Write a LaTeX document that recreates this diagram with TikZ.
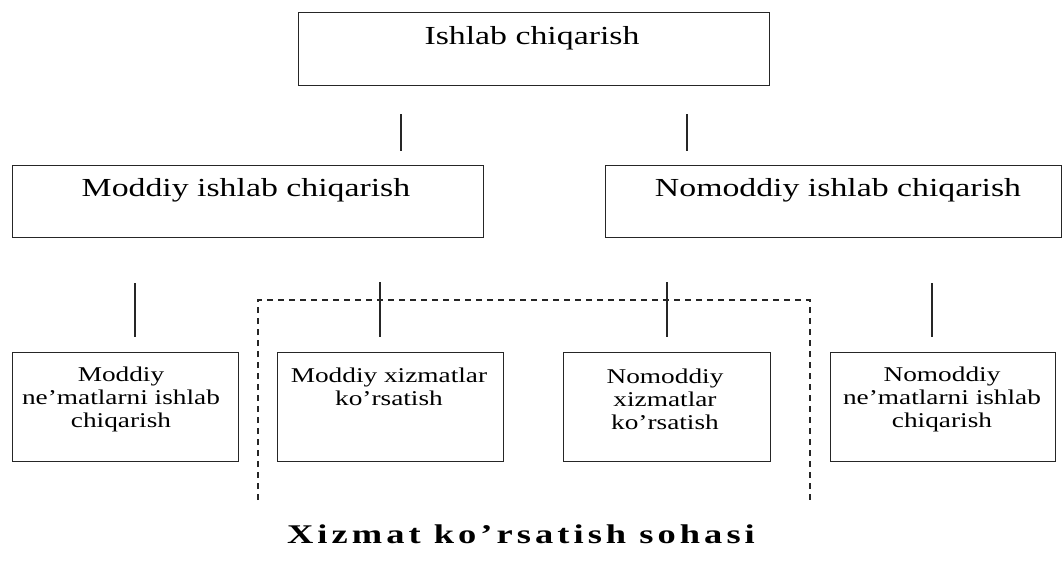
\documentclass[tikz,border=0pt]{standalone}
\usepackage{fontspec}
\setmainfont{Liberation Serif}[FakeStretch=1.3]
\newfontfamily\labfont{Liberation Serif Bold}[FakeStretch=1.35,LetterSpace=15]
\begin{document}
\begin{tikzpicture}[x=1pt,y=-1pt,
  box/.style={draw=black!85,line width=1.3pt,inner sep=0pt,anchor=north west},
  big/.style={inner sep=0pt,font=\fontsize{26}{30}\selectfont},
  small/.style={inner sep=0pt,align=center,font=\fontsize{21}{23}\selectfont},
  conn/.style={draw=black!85,line width=1.3pt},
  dsh/.style={draw=black!85,line width=1.3pt,dash pattern=on 6pt off 5pt}]
\useasboundingbox (0,0) rectangle (1062,563);
% boxes
\node[box,minimum width=471pt,minimum height=73pt] (top) at (298,12) {};
\node[box,minimum width=471pt,minimum height=72pt] (ml) at (12,165) {};
\node[box,minimum width=456pt,minimum height=72pt] (mr) at (605,165) {};
\node[box,minimum width=226pt,minimum height=109pt] (b1) at (12,352) {};
\node[box,minimum width=226pt,minimum height=109pt] (b2) at (277,352) {};
\node[box,minimum width=207pt,minimum height=109pt] (b3) at (563,352) {};
\node[box,minimum width=225pt,minimum height=109pt] (b4) at (830,352) {};
% texts
\node[big] (ttop) at (532,38) {Ishlab chiqarish};
\node[big] (tml) at (246,190) {Moddiy ishlab chiqarish};
\node[big] (tmr) at (838,190) {Nomoddiy ishlab chiqarish};
\node[small] (tb1) at (121,399) {Moddiy\\ne’matlarni ishlab\\chiqarish};
\node[small] (tb2) at (389,387) {Moddiy xizmatlar\\ko’rsatish};
\node[small] (tb3) at (665,399) {Nomoddiy\\xizmatlar\\ko’rsatish};
\node[small] (tb4) at (942,399) {Nomoddiy\\ne’matlarni ishlab\\chiqarish};
\node[inner sep=0pt,anchor=base,font=\labfont\fontsize{27}{30}\selectfont] (lab) at (521,543) {Xizmat ko’rsatish sohasi};
% connector stubs
\coordinate (a1) at (401,114); \coordinate (a2) at (401,151);
\coordinate (c1) at (687,114); \coordinate (c2) at (687,151);
\coordinate (e1) at (135,283); \coordinate (e2) at (135,337);
\coordinate (f1) at (380,282); \coordinate (f2) at (380,337);
\coordinate (g1) at (667,282); \coordinate (g2) at (667,337);
\coordinate (h1) at (932,283); \coordinate (h2) at (932,337);
\draw[conn] (a1) -- (a2);
\draw[conn] (c1) -- (c2);
\draw[conn] (e1) -- (e2);
\draw[conn] (f1) -- (f2);
\draw[conn] (g1) -- (g2);
\draw[conn] (h1) -- (h2);
% dashed bracket
\coordinate (d1) at (258,500); \coordinate (d2) at (258,300);
\coordinate (d3) at (810,300); \coordinate (d4) at (810,500);
\draw[dsh] (d1) -- (d2) -- (d3) -- (d4);
\end{tikzpicture}
\end{document}
